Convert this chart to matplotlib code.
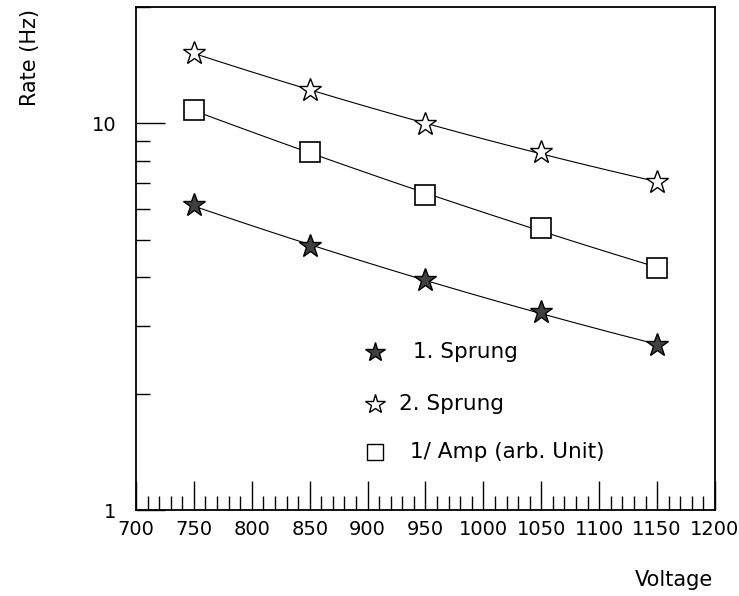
import numpy as np
import matplotlib
matplotlib.use('Agg')
import matplotlib.pyplot as plt
from matplotlib.ticker import FixedLocator, NullFormatter

plt.rcParams['font.family'] = ['DejaVu Sans']

voltage = [750, 850, 950, 1050, 1150]
sprung1 = [6.14, 4.81, 3.93, 3.25, 2.67]
sprung2 = [15.2, 12.2, 9.95, 8.42, 7.04]
inv_amp = [10.8, 8.42, 6.51, 5.35, 4.22]

x_ticks = list(range(700, 1201, 50))


# smooth fit curve (quadratic in log space) through a series
def fit_curve(xs, ys):
    p = np.polyfit(xs, np.log(ys), 2)
    xx = np.linspace(xs[0], xs[-1], 100)
    return xx, np.exp(np.polyval(p, xx))


fig = plt.figure(figsize=(7.39, 5.96), dpi=100)
ax = fig.add_axes([136 / 739, 1 - 510 / 596, 579 / 739, 503 / 596])

for ys in (sprung1, sprung2, inv_amp):
    xx, yy = fit_curve(voltage, ys)
    ax.plot(xx, yy, color='black', lw=0.8, zorder=2)

ax.plot(voltage, sprung1, ls='none', marker='*', ms=17, mfc='0.25', mec='black', mew=1.0, zorder=3)
ax.plot(voltage, sprung2, ls='none', marker='*', ms=17, mfc='white', mec='black', mew=1.0, zorder=3)
ax.plot(voltage, inv_amp, ls='none', marker='s', ms=15, mfc='white', mec='black', mew=1.2, zorder=3)

ax.set_yscale('log')
ax.set_xlim(700, 1200)
ax.set_ylim(1, 20)

ax.xaxis.set_major_locator(FixedLocator(x_ticks))
ax.xaxis.set_minor_locator(FixedLocator(range(700, 1201, 10)))
ax.yaxis.set_major_locator(FixedLocator([1, 10]))
ax.yaxis.set_minor_locator(FixedLocator([2, 3, 4, 5, 6, 7, 8, 9, 20]))
ax.yaxis.set_minor_formatter(NullFormatter())
ax.set_yticklabels(['1', '10'])
ax.tick_params(which='major', direction='in', length=21, width=1.0, labelsize=14)
ax.tick_params(axis='x', which='major', pad=7)
ax.tick_params(axis='y', which='major', pad=14)
ax.tick_params(which='minor', direction='in', length=10, width=1.0)
ax.tick_params(top=False, right=False)
for s in ax.spines.values():
    s.set_linewidth(1.3)

fig.text(30 / 739, 1 - 57 / 596, 'Rate (Hz)', rotation=90, ha='center', va='center', fontsize=15)
fig.text(713 / 739, 1 - 580 / 596, 'Voltage', ha='right', va='center', fontsize=15)

# hand-made legend inside the frame
legend = [('*', '0.25', 17, '1. Sprung', 0.314, 0.478),
          ('*', 'white', 17, '2. Sprung', 0.211, 0.455),
          ('s', 'white', 13, '1/ Amp (arb. Unit)', 0.115, 0.473)]
for mk, fc, ms, label, yy, tx in legend:
    ax.plot([0.413], [yy], transform=ax.transAxes, marker=mk, ms=ms * 0.85, mfc=fc,
            mec='black', mew=1.0, ls='none', clip_on=False)
    ax.text(tx, yy, label, transform=ax.transAxes, va='center', ha='left', fontsize=15.5)

fig.savefig('out.png', dpi=100)
